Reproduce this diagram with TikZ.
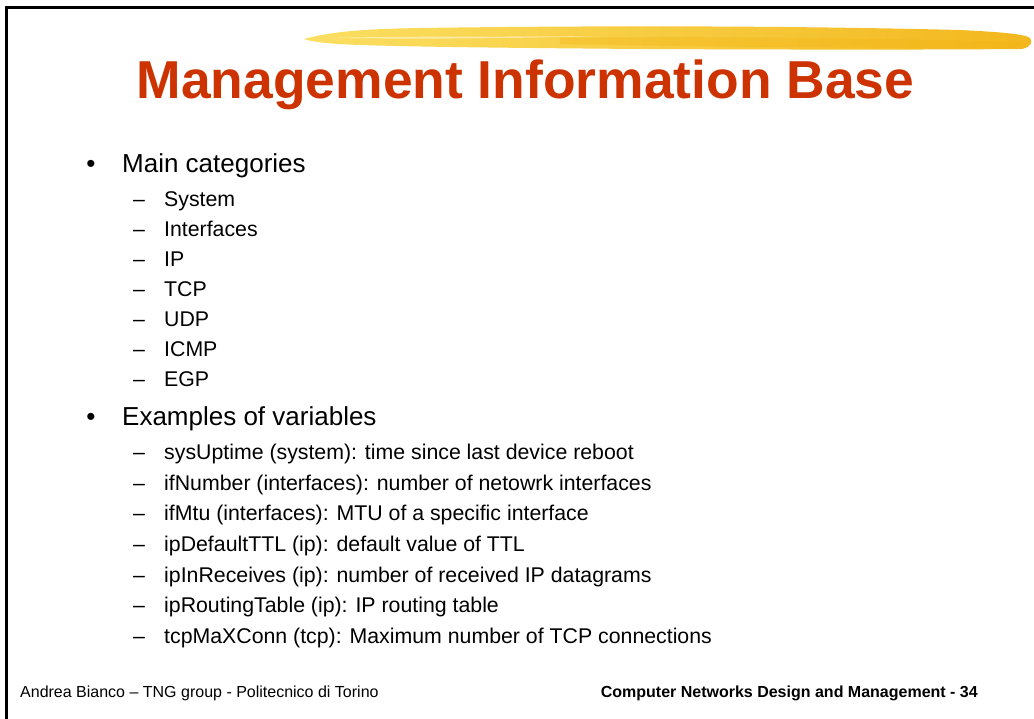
\documentclass[tikz,border=0pt]{standalone}
\usepackage{fontspec}
\setmainfont{Liberation Sans}
\definecolor{titlered}{RGB}{204,51,0}
\definecolor{brushlight}{RGB}{251,222,90}
\definecolor{brushdark}{RGB}{243,180,18}
\begin{document}
\begin{tikzpicture}[x=1pt,y=-1pt,
  frame/.style={line width=2.6pt,black},
  title/.style={anchor=base,text=titlered,font=\fontsize{53.4}{60}\selectfont\bfseries,inner sep=0pt},
  lvlone/.style={anchor=base west,font=\fontsize{26}{30}\selectfont,inner sep=0pt},
  lvltwo/.style={anchor=base west,font=\fontsize{21.3}{25}\selectfont,inner sep=0pt},
  mark1/.style={anchor=base,font=\fontsize{26}{30}\selectfont,inner sep=0pt},
  mark2/.style={anchor=base,font=\fontsize{21.3}{25}\selectfont,inner sep=0pt},
  foot/.style={anchor=base west,font=\fontsize{16}{18}\selectfont,inner sep=0pt},
  footb/.style={anchor=base east,font=\fontsize{16}{18}\selectfont\bfseries,inner sep=0pt}]
\useasboundingbox (0,0) rectangle (1034,719);
\fill[white] (0,0) rectangle (1034,719);

% slide frame (top and left edges)
\draw[frame] (6.5,719) -- (6.5,7.5) -- (1034,7.5);

% painted brush stroke above the title
\shade[left color=brushlight,right color=brushdark,opacity=0.95]
  (304,39) .. controls (330,32) and (360,29) .. (420,28)
  .. controls (560,26) and (760,25) .. (960,30)
  .. controls (1000,32) and (1025,34) .. (1030,38)
  .. controls (1033,42) and (1031,47) .. (1022,49)
  .. controls (900,50) and (760,49.5) .. (640,49)
  .. controls (520,48) and (420,47) .. (360,45)
  .. controls (330,44) and (312,42) .. cycle;
\fill[brushdark,opacity=0.35]
  (560,38) .. controls (700,36) and (860,38) .. (1020,42)
  .. controls (1024,45) and (1020,47) .. (1010,48)
  .. controls (860,48) and (700,47) .. (560,44) -- cycle;
\fill[white,opacity=0.45]
  (330,38) .. controls (400,36) and (500,37) .. (600,36)
  .. controls (500,39) and (400,39) .. cycle;

\node[title] (ttl) at (525.5,99) {Management Information Base};

% first bullet
\node[mark1] (b1) at (91,173) {•};
\node[lvlone] (t1) at (122,173) {Main categories};
\foreach \y/\txt/\nm in {207/System/s1,237/Interfaces/s2,267/IP/s3,297/TCP/s4,
                         327/UDP/s5,357/ICMP/s6,387/EGP/s7}{
  \node[mark2] (d\nm) at (139,\y) {–};
  \node[lvltwo] (\nm) at (164,\y) {\txt};
}

% second bullet
\node[mark1] (b2) at (91,425) {•};
\node[lvlone] (t2) at (122,425) {Examples of variables};
\foreach \y/\txt/\nm in {
  459/{sysUptime (system): time since last device reboot}/v1,
  490/{ifNumber (interfaces): number of netowrk interfaces}/v2,
  520/{ifMtu (interfaces): MTU of a specific interface}/v3,
  551/{ipDefaultTTL (ip): default value of TTL}/v4,
  582/{ipInReceives (ip): number of received IP datagrams}/v5,
  612/{ipRoutingTable (ip): IP routing table}/v6,
  643/{tcpMaXConn (tcp): Maximum number of TCP connections}/v7}{
  \node[mark2] (d\nm) at (139,\y) {–};
  \node[lvltwo] (\nm) at (164,\y) {\txt};
}

% footer
\node[foot] (fl) at (20,697) {Andrea Bianco – TNG group - Politecnico di Torino};
\node[footb] (fr) at (978,697) {Computer Networks Design and Management - 34};
\end{tikzpicture}
\end{document}
